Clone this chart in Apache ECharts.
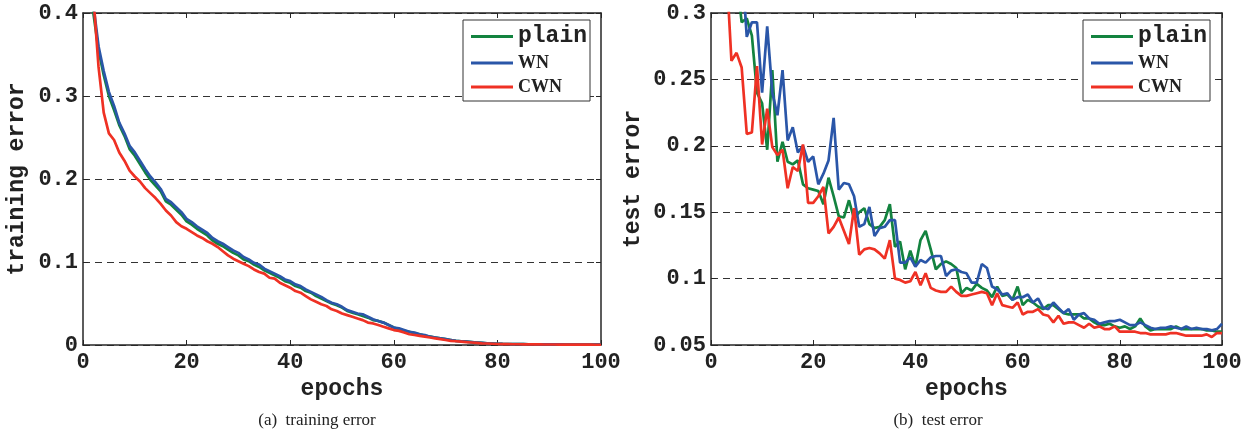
<!DOCTYPE html>
<html>
<head>
<meta charset="utf-8">
<script src="https://cdn.jsdelivr.net/npm/echarts@6/dist/echarts.min.js"></script>
<style>
  html, body { margin: 0; padding: 0; background: #ffffff; }
  #chart { width: 1249px; height: 433px; }
</style>
</head>
<body>
<div id="chart"></div>
<script>
const epochs = [
  1, 2, 3, 4, 5, 6, 7, 8, 9, 10, 11, 12, 13, 14, 15, 16, 17, 18, 19, 20,
  21, 22, 23, 24, 25, 26, 27, 28, 29, 30, 31, 32, 33, 34, 35, 36, 37, 38, 39, 40,
  41, 42, 43, 44, 45, 46, 47, 48, 49, 50, 51, 52, 53, 54, 55, 56, 57, 58, 59, 60,
  61, 62, 63, 64, 65, 66, 67, 68, 69, 70, 71, 72, 73, 74, 75, 76, 77, 78, 79, 80,
  81, 82, 83, 84, 85, 86, 87, 88, 89, 90, 91, 92, 93, 94, 95, 96, 97, 98, 99, 100
];
const seriesNames = ['plain', 'WN', 'CWN'];

// (a) training error
const trainPlain = [
  0.54, 0.40, 0.355, 0.325, 0.300, 0.283, 0.265, 0.252, 0.236, 0.228,
  0.218, 0.208, 0.199, 0.192, 0.185, 0.173, 0.169, 0.163, 0.157, 0.149,
  0.145, 0.140, 0.136, 0.132, 0.126, 0.122, 0.119, 0.115, 0.111, 0.108,
  0.103, 0.101, 0.097, 0.094, 0.090, 0.087, 0.084, 0.081, 0.077, 0.075,
  0.071, 0.069, 0.065, 0.063, 0.059, 0.056, 0.053, 0.050, 0.048, 0.045,
  0.041, 0.039, 0.037, 0.035, 0.033, 0.030, 0.029, 0.027, 0.024, 0.021,
  0.019, 0.017, 0.016, 0.014, 0.013, 0.011, 0.010, 0.009, 0.008, 0.007,
  0.006, 0.005, 0.0045, 0.004, 0.0035, 0.003, 0.0025, 0.002, 0.0018, 0.0015,
  0.0013, 0.0012, 0.0011, 0.0010, 0.0010, 0.0009, 0.0009, 0.0008, 0.0008, 0.0007,
  0.0007, 0.0007, 0.0006, 0.0006, 0.0006, 0.0005, 0.0005, 0.0005, 0.0005, 0.0004
];
const trainWN = [
  0.55, 0.41, 0.36, 0.33, 0.305, 0.288, 0.268, 0.255, 0.240, 0.232,
  0.222, 0.212, 0.203, 0.196, 0.188, 0.176, 0.172, 0.166, 0.160, 0.152,
  0.148, 0.143, 0.139, 0.135, 0.129, 0.125, 0.122, 0.118, 0.114, 0.111,
  0.106, 0.103, 0.099, 0.097, 0.092, 0.089, 0.086, 0.083, 0.079, 0.077,
  0.073, 0.071, 0.067, 0.064, 0.061, 0.058, 0.054, 0.051, 0.049, 0.046,
  0.042, 0.040, 0.038, 0.037, 0.034, 0.031, 0.029, 0.027, 0.024, 0.021,
  0.020, 0.018, 0.016, 0.015, 0.013, 0.012, 0.010, 0.009, 0.008, 0.007,
  0.006, 0.005, 0.0045, 0.004, 0.0035, 0.003, 0.0025, 0.002, 0.0018, 0.0015,
  0.0013, 0.0012, 0.0011, 0.0010, 0.0010, 0.0009, 0.0009, 0.0008, 0.0008, 0.0007,
  0.0007, 0.0007, 0.0006, 0.0006, 0.0006, 0.0005, 0.0005, 0.0005, 0.0005, 0.0004
];
const trainCWN = [
  0.50, 0.42, 0.335, 0.28, 0.255, 0.247, 0.232, 0.222, 0.210, 0.203,
  0.197, 0.189, 0.183, 0.177, 0.170, 0.162, 0.156, 0.148, 0.143, 0.140,
  0.136, 0.132, 0.129, 0.125, 0.122, 0.118, 0.113, 0.108, 0.104, 0.101,
  0.098, 0.095, 0.091, 0.088, 0.086, 0.081, 0.080, 0.075, 0.072, 0.069,
  0.065, 0.063, 0.059, 0.055, 0.052, 0.049, 0.047, 0.043, 0.041, 0.038,
  0.036, 0.034, 0.032, 0.030, 0.027, 0.026, 0.024, 0.022, 0.020, 0.018,
  0.017, 0.015, 0.013, 0.012, 0.011, 0.010, 0.009, 0.008, 0.007, 0.006,
  0.005, 0.0045, 0.004, 0.0035, 0.003, 0.0025, 0.002, 0.0018, 0.0015, 0.0012,
  0.0011, 0.0010, 0.0009, 0.0009, 0.0008, 0.0008, 0.0007, 0.0007, 0.0006, 0.0006,
  0.0006, 0.0005, 0.0005, 0.0005, 0.0004, 0.0004, 0.0004, 0.0004, 0.0003, 0.0003
];

// (b) test error
const testPlain = [
  0.50, 0.45, 0.40, 0.36, 0.328, 0.293, 0.296, 0.283, 0.240, 0.232,
  0.197, 0.257, 0.188, 0.203, 0.188, 0.186, 0.189, 0.171, 0.168, 0.167,
  0.166, 0.156, 0.176, 0.162, 0.147, 0.146, 0.159, 0.145, 0.150, 0.153,
  0.141, 0.138, 0.139, 0.144, 0.156, 0.124, 0.128, 0.107, 0.121, 0.109,
  0.129, 0.136, 0.122, 0.107, 0.111, 0.113, 0.111, 0.108, 0.089, 0.093,
  0.091, 0.096, 0.093, 0.091, 0.086, 0.094, 0.087, 0.088, 0.084, 0.094,
  0.080, 0.084, 0.082, 0.079, 0.077, 0.080, 0.080, 0.077, 0.074, 0.073,
  0.073, 0.073, 0.070, 0.070, 0.067, 0.065, 0.065, 0.066, 0.064, 0.063,
  0.064, 0.062, 0.064, 0.070, 0.064, 0.061, 0.062, 0.062, 0.062, 0.062,
  0.064, 0.062, 0.062, 0.062, 0.062, 0.062, 0.061, 0.061, 0.060, 0.060
];
const testWN = [
  0.50, 0.46, 0.42, 0.39, 0.36, 0.34, 0.282, 0.293, 0.293, 0.240,
  0.290, 0.240, 0.223, 0.257, 0.204, 0.214, 0.195, 0.200, 0.188, 0.192,
  0.171, 0.179, 0.189, 0.221, 0.167, 0.172, 0.171, 0.162, 0.139, 0.141,
  0.154, 0.132, 0.138, 0.139, 0.144, 0.144, 0.112, 0.112, 0.116, 0.109,
  0.114, 0.112, 0.116, 0.117, 0.117, 0.102, 0.106, 0.107, 0.105, 0.104,
  0.097, 0.097, 0.111, 0.108, 0.094, 0.092, 0.088, 0.089, 0.084, 0.086,
  0.086, 0.088, 0.082, 0.085, 0.078, 0.077, 0.082, 0.078, 0.074, 0.077,
  0.069, 0.073, 0.074, 0.070, 0.069, 0.066, 0.067, 0.068, 0.068, 0.069,
  0.067, 0.065, 0.065, 0.067, 0.065, 0.063, 0.062, 0.063, 0.063, 0.064,
  0.063, 0.062, 0.064, 0.062, 0.063, 0.062, 0.062, 0.061, 0.062, 0.066
];
const testCWN = [
  0.45, 0.39, 0.335, 0.264, 0.270, 0.259, 0.209, 0.210, 0.260, 0.201,
  0.228, 0.199, 0.193, 0.197, 0.168, 0.184, 0.181, 0.201, 0.157, 0.157,
  0.162, 0.169, 0.134, 0.139, 0.146, 0.136, 0.126, 0.153, 0.118, 0.122,
  0.123, 0.122, 0.119, 0.115, 0.129, 0.100, 0.099, 0.097, 0.098, 0.105,
  0.095, 0.104, 0.093, 0.091, 0.090, 0.090, 0.094, 0.090, 0.087, 0.087,
  0.088, 0.089, 0.090, 0.089, 0.080, 0.089, 0.080, 0.079, 0.078, 0.082,
  0.073, 0.075, 0.075, 0.077, 0.073, 0.072, 0.067, 0.072, 0.066, 0.067,
  0.067, 0.065, 0.063, 0.066, 0.063, 0.064, 0.062, 0.062, 0.064, 0.060,
  0.060, 0.060, 0.060, 0.059, 0.059, 0.058, 0.058, 0.058, 0.058, 0.059,
  0.059, 0.058, 0.057, 0.057, 0.057, 0.057, 0.058, 0.056, 0.059, 0.059
];

const colors = ['#13833f', '#2a56a8', '#ef3124'];
const mono = 'Liberation Mono';
const serif = 'Liberation Serif';
const axisCol = '#262626';
const textCol = '#222222';

const chart = echarts.init(document.getElementById('chart'), null, { renderer: 'canvas' });

const pairs = (vals) => vals.map((v, i) => [epochs[i], v]);

// main axes carry labels, the mirrored ones just close the box with inward ticks
const xAxes = (gridIndex) => [
  {
    gridIndex, type: 'value', min: 0, max: 100, interval: 20, position: 'bottom',
    name: 'epochs', nameLocation: 'middle', nameGap: 24,
    nameTextStyle: { fontFamily: mono, fontWeight: 'bold', fontSize: 23, color: textCol },
    axisLine: { show: true, onZero: false, lineStyle: { color: axisCol, width: 1.5 } },
    axisTick: { show: true, inside: true, length: 5, lineStyle: { color: axisCol, width: 1 } },
    axisLabel: { fontFamily: mono, fontWeight: 'bold', fontSize: 22, color: textCol, margin: 6 },
    splitLine: { show: false }
  },
  {
    gridIndex, type: 'value', min: 0, max: 100, interval: 20, position: 'top',
    axisLine: { show: true, onZero: false, lineStyle: { color: axisCol, width: 1.5 } },
    axisTick: { show: true, inside: true, length: 5, lineStyle: { color: axisCol, width: 1 } },
    axisLabel: { show: false },
    splitLine: { show: false }
  }
];

const yAxes = (gridIndex, min, max, interval, name, nameGap) => [
  {
    gridIndex, type: 'value', min, max, interval, position: 'left',
    name, nameLocation: 'middle', nameGap,
    nameTextStyle: { fontFamily: mono, fontWeight: 'bold', fontSize: 23, color: textCol },
    axisLine: { show: true, onZero: false, lineStyle: { color: axisCol, width: 1.5 } },
    axisTick: { show: true, inside: true, length: 5, lineStyle: { color: axisCol, width: 1 } },
    axisLabel: { fontFamily: mono, fontWeight: 'bold', fontSize: 22, color: textCol, margin: 5 },
    splitLine: { show: true, lineStyle: { color: '#333333', width: 1, type: [7, 5] } }
  },
  {
    gridIndex, type: 'value', min, max, interval, position: 'right',
    axisLine: { show: true, onZero: false, lineStyle: { color: axisCol, width: 1.5 } },
    axisTick: { show: true, inside: true, length: 5, lineStyle: { color: axisCol, width: 1 } },
    axisLabel: { show: false },
    splitLine: { show: false }
  }
];

const lineSeries = (name, vals, color, axisIndex) => ({
  name, type: 'line', data: pairs(vals),
  xAxisIndex: axisIndex, yAxisIndex: axisIndex,
  showSymbol: false, symbol: 'none', clip: true,
  lineStyle: { color, width: 2.7 }, itemStyle: { color },
  z: 3, animation: false
});

const legendBase = {
  orient: 'vertical', top: 20, itemWidth: 42, itemHeight: 3, icon: 'rect', itemGap: 6,
  padding: [5, 3, 5, 8],
  backgroundColor: '#ffffff', borderColor: '#333333', borderWidth: 1, borderRadius: 0,
  formatter: (n) => n === 'plain' ? '{m|' + n + '}' : '{s|' + n + '}',
  textStyle: {
    color: textCol,
    rich: {
      m: { fontFamily: mono, fontWeight: 'bold', fontSize: 23, color: textCol, height: 21 },
      s: { fontFamily: serif, fontWeight: 'bold', fontSize: 18, color: textCol, height: 21 }
    }
  },
  selectedMode: false
};

const option = {
  backgroundColor: '#ffffff',
  animation: false,
  color: colors,
  grid: [
    { left: 83, right: 648, top: 13, bottom: 88 },
    { left: 711, right: 27, top: 13, bottom: 88 }
  ],
  xAxis: [...xAxes(0), ...xAxes(1)],
  yAxis: [...yAxes(0, 0, 0.4, 0.1, 'training error', 54), ...yAxes(1, 0.05, 0.3, 0.05, 'test error', 66)],
  legend: [
    { ...legendBase, left: 463, data: seriesNames.map((n, i) => ({ name: n, itemStyle: { color: colors[i] } })) },
    { ...legendBase, left: 1083, data: seriesNames.map((n, i) => ({ name: n, itemStyle: { color: colors[i] } })) }
  ],
  title: [
    { text: '(a)\u00a0 training error', left: 312, top: 407, textAlign: 'center',
      textStyle: { fontFamily: serif, fontWeight: 'normal', fontSize: 17, color: textCol } },
    { text: '(b)\u00a0 test error', left: 933, top: 407, textAlign: 'center',
      textStyle: { fontFamily: serif, fontWeight: 'normal', fontSize: 17, color: textCol } }
  ],
  series: [
    lineSeries('plain', trainPlain, colors[0], 0),
    lineSeries('WN', trainWN, colors[1], 0),
    lineSeries('CWN', trainCWN, colors[2], 0),
    lineSeries('plain', testPlain, colors[0], 2),
    lineSeries('WN', testWN, colors[1], 2),
    lineSeries('CWN', testCWN, colors[2], 2)
  ]
};

chart.setOption(option);
</script>
</body>
</html>
